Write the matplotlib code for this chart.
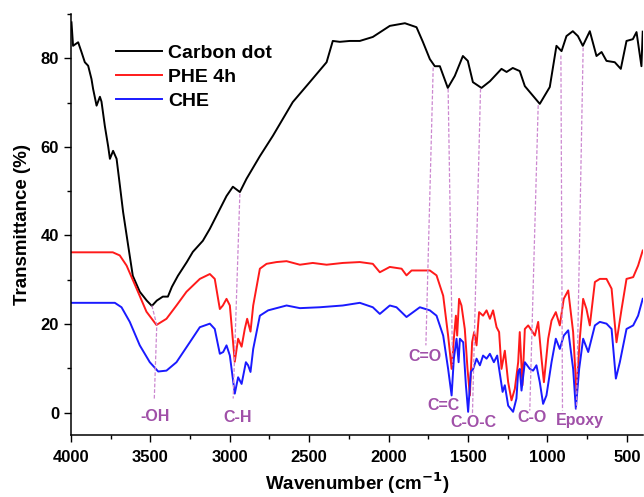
import numpy as np
import matplotlib
matplotlib.use("Agg")
import matplotlib.pyplot as plt
from matplotlib.ticker import MultipleLocator

plt.rcParams['font.family'] = ['Liberation Sans', 'DejaVu Sans']
plt.rcParams['font.weight'] = 'bold'

# FTIR spectra, wavenumber (cm-1) vs transmittance (%)
cd_wn = [3996, 3986, 3954, 3933, 3912, 3891, 3870, 3860, 3838, 3817, 3807, 3786, 3765, 3754,
         3734, 3712, 3691, 3671, 3639, 3610, 3566, 3522, 3490, 3459, 3421, 3389, 3364, 3326,
         3270, 3232, 3169, 3125, 3020, 2980, 2936, 2894, 2810, 2728, 2603, 2496, 2390, 2351,
         2307, 2244, 2181, 2099, 1992, 1897, 1824, 1784, 1740, 1709, 1677, 1627, 1583, 1532,
         1501, 1469, 1415, 1362, 1289, 1257, 1218, 1174, 1142, 1048, 985, 943, 911, 880, 840,
         808, 777, 733, 691, 659, 628, 576, 538, 502, 462, 439, 408, 400]
cd_t = [88.1, 82.8, 83.6, 81.4, 79.1, 78.3, 75.3, 73.1, 69.3, 71.3, 70.2, 64.7, 60.1, 57.3,
        59.1, 57.3, 51.2, 45.3, 37.7, 30.9, 27.3, 25.3, 24.1, 25.3, 26.2, 26.2, 28.4, 30.9,
        34.0, 36.3, 38.8, 41.5, 48.9, 51.0, 49.8, 52.8, 57.9, 62.5, 70.1, 74.6, 79.1, 83.9,
        83.7, 83.9, 83.9, 84.8, 87.3, 87.9, 87.0, 83.7, 79.8, 78.2, 78.2, 73.3, 76.0, 80.5,
        79.4, 74.6, 73.3, 74.8, 77.6, 76.9, 77.8, 77.1, 73.7, 69.7, 73.5, 82.8, 81.6, 85.0, 86.1,
        85.0, 82.8, 86.1, 80.5, 81.4, 79.4, 79.1, 77.6, 83.9, 84.3, 85.9, 78.2, 86.0]

phe_wn = [3996, 3736, 3692, 3649, 3586, 3524, 3461, 3398, 3335, 3272, 3188, 3125, 3094, 3073,
          3062, 3043, 3020, 2999, 2968, 2947, 2925, 2905, 2890, 2869, 2852, 2810, 2768, 2705,
          2642, 2558, 2477, 2390, 2288, 2181, 2099, 2055, 1992, 1918, 1887, 1855, 1740, 1698,
          1656, 1625, 1603, 1589, 1576, 1568, 1556, 1541, 1520, 1503, 1488, 1474, 1461, 1446,
          1430, 1405, 1383, 1362, 1342, 1320, 1304, 1289, 1268, 1247, 1226, 1205, 1184, 1174,
          1157, 1142, 1121, 1100, 1079, 1058, 1037, 1022, 995, 974, 947, 922, 897, 869, 838, 817,
          796, 775, 754, 733, 701, 670, 628, 596, 565, 533, 502, 460, 429, 400]
phe_t = [36.2, 36.2, 35.5, 33.2, 28.0, 22.8, 19.8, 21.2, 24.2, 27.3, 30.2, 31.3, 30.2, 25.7,
         23.4, 24.2, 25.7, 24.2, 11.5, 16.7, 14.9, 18.9, 21.2, 18.3, 24.2, 32.5, 33.6, 34.0,
         34.2, 33.4, 33.8, 33.4, 33.8, 34.0, 33.6, 31.7, 32.9, 32.5, 31.0, 32.1, 32.1, 31.0,
         26.4, 17.4, 9.9, 16.7, 21.9, 17.4, 25.7, 24.2, 18.9, 9.9, 3.9, 15.9, 18.2, 15.2,
         22.7, 21.9, 23.1, 21.2, 23.1, 19.3, 18.2, 9.9, 14.0, 6.9, 2.8, 5.4, 11.4, 18.2,
         6.2, 18.9, 19.7, 18.6, 17.4, 20.5, 12.2, 6.9, 16.7, 20.8, 22.7, 19.7, 25.7, 27.6, 18.2, 4.7,
         16.7, 25.7, 23.4, 19.7, 29.5, 30.2, 30.2, 28.0, 15.9, 23.4, 30.2, 30.6, 33.2, 36.6]

che_wn = [3996, 3723, 3681, 3629, 3566, 3503, 3450, 3398, 3335, 3251, 3188, 3125, 3094, 3073,
          3062, 3041, 3020, 2999, 2968, 2947, 2925, 2898, 2884, 2869, 2852, 2810, 2758, 2642,
          2558, 2433, 2288, 2181, 2099, 2055, 1992, 1950, 1887, 1803, 1740, 1698, 1656, 1625,
          1603, 1589, 1572, 1559, 1551, 1530, 1513, 1499, 1482, 1467, 1446, 1425, 1405, 1383,
          1362, 1337, 1316, 1304, 1282, 1268, 1247, 1216, 1195, 1184, 1174, 1163, 1142, 1111,
          1090, 1069, 1048, 1027, 1006, 974, 947, 922, 897, 869, 838, 821, 800, 775, 743, 701,
          670, 628, 596, 569, 544, 502, 460, 429, 400]
che_t = [24.8, 24.8, 23.8, 20.5, 15.2, 11.4, 9.3, 9.5, 11.4, 15.9, 19.3, 20.1, 18.9, 15.2,
         13.3, 13.7, 15.2, 12.9, 4.3, 8.0, 6.5, 11.4, 10.7, 9.2, 14.4, 21.9, 23.1, 24.2,
         23.6, 23.8, 24.2, 24.8, 23.8, 22.3, 24.2, 23.8, 21.6, 23.8, 23.1, 21.9, 17.4, 9.9,
         3.9, 12.2, 16.7, 11.4, 16.7, 15.9, 6.2, 0.2, 9.2, 9.9, 12.2, 10.7, 12.9, 12.2,
         13.3, 11.4, 12.9, 9.9, 4.7, 6.2, 1.6, 0.2, 3.2, 9.2, 9.9, 5.0, 11.4, 9.9,
         9.5, 10.7, 6.9, 2.0, 3.9, 11.4, 16.7, 14.4, 17.4, 18.6, 9.9, 0.9, 9.9, 16.7, 13.7, 19.7,
         20.5, 20.1, 18.9, 7.7, 11.4, 18.9, 19.7, 21.9, 25.7]

# band assignment guides: (x0, y0) on the carbon dot curve -> (x1, y1) near the label
band_labels = ['-OH', 'C-H', 'C=O', 'C=C', 'C-O-C', 'C-O', 'Epoxy']
band_label_pos = [(3468, -0.9), (2947, -1.0), (1772, 12.6), (1656, 1.6),
                  (1467, -2.3), (1100, -1.0), (796, -1.7)]
guide_lines = [
    ([3490, 3459, 3475], [24.2, 19.8, 2.8]),
    ([2936, 2978], [49.4, 3.2]),
    ([1719, 1765], [77.9, 15.2]),
    ([1625, 1597], [73.1, 10.7]),
    ([1421, 1472], [73.1, -0.6]),
    ([1058, 1111], [69.4, 0.5]),
    ([915, 905], [80.6, 0.5]),
    ([775, 817], [82.4, 0.9]),
]

purple = '#A050A8'
guide_color = '#CC88D0'

fig = plt.figure(figsize=(6.44, 4.97), dpi=100)
ax = fig.add_axes([0.110, 0.125, 0.888, 0.847])

ax.plot(cd_wn, cd_t, color='black', lw=1.4, label='Carbon dot')
ax.plot(phe_wn, phe_t, color='#FF1A1A', lw=1.4, label='PHE 4h')
ax.plot(che_wn, che_t, color='#1A1AFF', lw=1.4, label='CHE')

for xs, ys in guide_lines:
    ax.plot(xs, ys, color=guide_color, lw=0.9, ls=(0, (3, 1.5)))
for lab, (x, y) in zip(band_labels, band_label_pos):
    ax.text(x, y, lab, color=purple, fontsize=11.5, fontweight='bold',
            ha='center', va='center')

ax.set_xlim(4000, 400)
ax.set_ylim(-5, 90)
ax.xaxis.set_major_locator(MultipleLocator(500))
ax.xaxis.set_minor_locator(MultipleLocator(250))
ax.yaxis.set_major_locator(MultipleLocator(20))
ax.yaxis.set_minor_locator(MultipleLocator(10))
ax.tick_params(which='major', direction='out', length=5, width=1, labelsize=12)
ax.tick_params(axis='x', which='major', pad=6)
ax.tick_params(which='minor', direction='out', length=3, width=1)
for lbl in ax.get_xticklabels() + ax.get_yticklabels():
    lbl.set_fontweight('bold')
ax.spines['top'].set_visible(False)
ax.spines['right'].set_visible(False)
ax.spines['left'].set_linewidth(1.1)
ax.spines['bottom'].set_linewidth(1.1)

ax.set_xlabel('Wavenumber (cm$^{\\mathbf{-1}}$)', fontsize=13.5, fontweight='bold', labelpad=4)
ax.set_ylabel('Transmittance (%)', fontsize=13.5, fontweight='bold', labelpad=7)

leg = ax.legend(loc='upper left', bbox_to_anchor=(0.058, 0.955), frameon=False,
                fontsize=14, handlelength=2.4, handletextpad=0.3, labelspacing=0.32,
                borderaxespad=0.2)
for t in leg.get_texts():
    t.set_fontweight('bold')

fig.savefig('out.png', dpi=100)
